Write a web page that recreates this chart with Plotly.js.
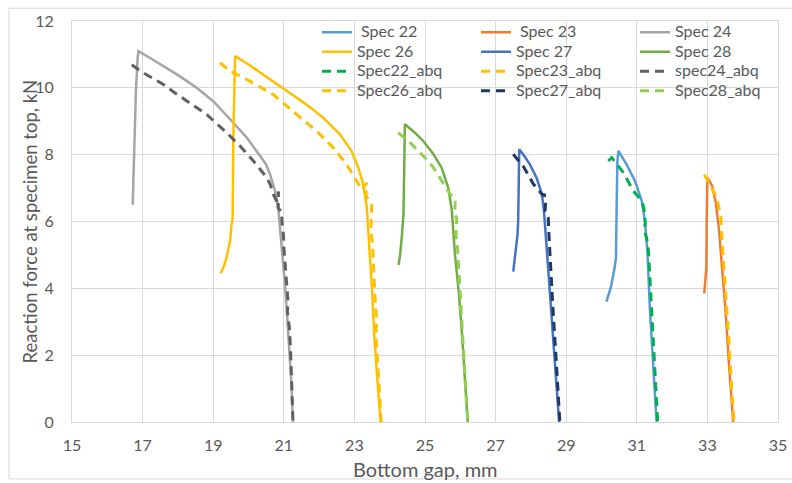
<!DOCTYPE html>
<html>
<head>
<meta charset="utf-8">
<script src="https://cdn.plot.ly/plotly-3.0.1.min.js"></script>
<style>html,body{margin:0;padding:0;background:#fff;}</style>
</head>
<body>
<div id="chart" style="width:792px;height:483px;"></div>
<script>
// ---- data ----
const spec22_x = [30.14, 30.20, 30.27, 30.36, 30.41, 30.43, 30.45, 30.48, 30.71, 30.95, 31.14, 31.23, 31.30, 31.37, 31.46, 31.56];
const spec22_y = [3.60, 3.80, 4.05, 4.55, 4.90, 6.50, 7.80, 8.11, 7.71, 7.21, 6.62, 6.02, 5.13, 3.40, 1.75, 0.00];

const spec23_x = [32.91, 32.93, 32.95, 32.97, 32.98, 33.00, 33.07, 33.14, 33.24, 33.33, 33.42, 33.52, 33.61, 33.73];
const spec23_y = [3.85, 4.10, 4.45, 4.60, 6.00, 7.30, 7.20, 7.05, 6.55, 5.75, 4.55, 3.25, 1.75, 0.00];

const spec24_x = [16.72, 16.75, 16.78, 16.81, 16.86, 16.88, 17.20, 17.59, 18.05, 18.53, 19.00, 19.48, 19.95, 20.33, 20.50, 20.61, 20.69, 20.75, 20.84, 20.89, 20.97, 21.03, 21.12, 21.21, 21.26];
const spec24_y = [6.50, 7.60, 8.60, 9.90, 10.90, 11.10, 10.90, 10.65, 10.35, 10.00, 9.60, 9.06, 8.51, 7.96, 7.70, 7.41, 7.15, 6.92, 6.42, 5.82, 5.03, 4.15, 2.75, 1.25, 0.00];

const spec26_x = [19.21, 19.30, 19.38, 19.48, 19.52, 19.55, 19.57, 19.60, 19.62, 20.00, 20.42, 20.90, 21.37, 21.75, 22.12, 22.59, 22.92, 23.11, 23.25, 23.35, 23.39, 23.44, 23.50, 23.57, 23.67, 23.74];
const spec26_y = [4.45, 4.65, 4.93, 5.42, 5.92, 6.10, 8.50, 10.50, 10.95, 10.70, 10.40, 10.05, 9.70, 9.42, 9.10, 8.61, 8.11, 7.61, 7.12, 6.42, 5.82, 5.03, 3.95, 2.45, 0.95, 0.00];

const spec27_x = [27.50, 27.55, 27.58, 27.62, 27.64, 27.66, 27.67, 27.80, 27.97, 28.16, 28.31, 28.37, 28.43, 28.47, 28.52, 28.62, 28.72, 28.80];
const spec27_y = [4.50, 4.90, 5.13, 5.60, 6.02, 7.20, 8.16, 7.98, 7.71, 7.31, 6.82, 6.32, 5.52, 4.83, 4.15, 2.65, 1.15, 0.00];

const spec28_x = [24.25, 24.29, 24.34, 24.39, 24.41, 24.43, 24.70, 24.95, 25.24, 25.47, 25.66, 25.76, 25.85, 25.96, 26.06, 26.14, 26.21];
const spec28_y = [4.70, 4.95, 5.50, 6.22, 7.50, 8.91, 8.67, 8.41, 8.01, 7.61, 7.01, 6.32, 5.00, 3.85, 2.45, 1.15, 0.00];

const spec22abq_x = [30.19, 30.29, 30.45, 30.62, 30.90, 31.14, 31.20, 31.24, 31.22, 31.28, 31.33, 31.40, 31.48, 31.59];
const spec22abq_y = [7.81, 7.91, 7.70, 7.46, 6.92, 6.62, 6.40, 6.00, 5.70, 5.50, 5.13, 3.80, 2.20, 0.00];

const spec23abq_x = [32.91, 33.00, 33.09, 33.20, 33.28, 33.38, 33.42, 33.52, 33.61, 33.69, 33.76];
const spec23abq_y = [7.40, 7.25, 7.05, 6.85, 6.65, 6.15, 5.35, 3.95, 2.45, 0.95, 0.00];

const spec24abq_x = [16.70, 16.74, 17.02, 17.30, 17.59, 17.90, 18.25, 18.82, 19.38, 19.76, 20.14, 20.52, 20.62, 20.70, 20.80, 20.85, 20.84, 20.93, 20.96, 20.99, 21.00, 21.03, 21.08, 21.12, 21.10, 21.16, 21.19, 21.23, 21.26];
const spec24abq_y = [10.70, 10.65, 10.45, 10.28, 10.10, 9.86, 9.60, 9.20, 8.66, 8.26, 7.81, 7.31, 7.10, 6.82, 6.60, 6.90, 6.40, 6.30, 5.82, 5.60, 5.25, 4.80, 4.20, 3.60, 3.30, 2.80, 2.20, 1.20, 0.00];

const spec26abq_x = [19.19, 19.48, 20.04, 20.70, 21.37, 21.93, 22.40, 22.78, 23.06, 23.22, 23.35, 23.33, 23.42, 23.49, 23.47, 23.52, 23.57, 23.63, 23.61, 23.68, 23.76];
const spec26abq_y = [10.75, 10.50, 10.20, 9.80, 9.20, 8.71, 8.21, 7.71, 7.21, 6.95, 7.16, 6.77, 6.60, 6.53, 5.82, 5.20, 4.00, 3.00, 2.60, 1.50, 0.00];

const spec27abq_x = [27.50, 27.78, 28.07, 28.31, 28.38, 28.42, 28.40, 28.49, 28.52, 28.55, 28.63, 28.72, 28.82];
const spec27abq_y = [8.01, 7.66, 7.12, 6.82, 6.80, 6.60, 6.30, 6.12, 5.42, 4.80, 3.30, 1.80, 0.00];

const spec28abq_x = [24.24, 24.58, 24.80, 25.05, 25.25, 25.43, 25.58, 25.71, 25.80, 25.86, 25.84, 25.90, 25.88, 25.92, 25.98, 26.07, 26.14, 26.21];
const spec28abq_y = [8.66, 8.36, 8.12, 7.86, 7.60, 7.31, 7.07, 6.82, 6.72, 6.67, 6.22, 6.10, 5.60, 5.20, 4.15, 2.65, 1.30, 0.00];

const seriesNames = [' Spec 22', ' Spec 23', 'Spec 24', 'Spec 26', 'Spec 27', 'Spec 28',
                     'Spec22_abq', 'Spec23_abq', 'spec24_abq', 'Spec26_abq', 'Spec27_abq', 'Spec28_abq'];
const xTickVals = [15, 17, 19, 21, 23, 25, 27, 29, 31, 33, 35];
const yTickVals = [0, 2, 4, 6, 8, 10, 12];
const xTitle = 'Bottom gap, mm';
const yTitle = 'Reaction force at specimen top, kN';

// ---- styling ----
const FONT = 'Lato, "Open Sans", sans-serif';
const TXT = '#595959';
function solid(x, y, name, color, legend) {
  return {x: x, y: y, name: '<span style="font-size:16px">' + name + '</span>', type: 'scatter', mode: 'lines',
          line: {color: color, width: 2.5}, legend: legend, hoverinfo: 'x+y+name'};
}
function dashed(x, y, name, color, legend) {
  return {x: x, y: y, name: '<span style="font-size:16px">' + name + '</span>', type: 'scatter', mode: 'lines',
          line: {color: color, width: 3, dash: '9px,6px'}, legend: legend, hoverinfo: 'x+y+name'};
}

const traces = [
  solid(spec22_x, spec22_y, seriesNames[0], '#5B9BD5', 'legend'),
  solid(spec23_x, spec23_y, seriesNames[1], '#ED7D31', 'legend2'),
  solid(spec24_x, spec24_y, seriesNames[2], '#A5A5A5', 'legend3'),
  solid(spec26_x, spec26_y, seriesNames[3], '#FFC000', 'legend'),
  solid(spec27_x, spec27_y, seriesNames[4], '#4472C4', 'legend2'),
  solid(spec28_x, spec28_y, seriesNames[5], '#70AD47', 'legend3'),
  dashed(spec22abq_x, spec22abq_y, seriesNames[6], '#00B050', 'legend'),
  dashed(spec23abq_x, spec23abq_y, seriesNames[7], '#FFC000', 'legend2'),
  dashed(spec24abq_x, spec24abq_y, seriesNames[8], '#606060', 'legend3'),
  dashed(spec26abq_x, spec26abq_y, seriesNames[9], '#FFC000', 'legend'),
  dashed(spec27abq_x, spec27abq_y, seriesNames[10], '#203864', 'legend2'),
  dashed(spec28abq_x, spec28abq_y, seriesNames[11], '#92D050', 'legend3')
];

function legendAt(x) {
  return {x: x, y: 1.009, xanchor: 'left', yanchor: 'top', orientation: 'v',
          bgcolor: 'rgba(0,0,0,0)', borderwidth: 0,
          font: {family: FONT, size: 12.7, color: TXT}, tracegroupgap: 0};
}

const layout = {
  width: 792, height: 483,
  margin: {l: 72, r: 14, t: 21, b: 61, pad: 0},
  paper_bgcolor: '#ffffff', plot_bgcolor: '#ffffff',
  font: {family: FONT, color: TXT},
  showlegend: true,
  legend: legendAt(0.347),
  legend2: legendAt(0.5722),
  legend3: legendAt(0.7975),
  xaxis: {
    range: [15, 35], tickvals: xTickVals, ticktext: xTickVals.map(String),
    showgrid: true, gridcolor: '#D9D9D9', gridwidth: 1, zeroline: false,
    showline: true, linecolor: '#D9D9D9', linewidth: 1, mirror: true,
    ticks: '', ticklabelstandoff: 9,
    tickfont: {family: FONT, size: 16, color: TXT}
  },
  yaxis: {
    range: [0, 12], tickvals: yTickVals, ticktext: yTickVals.map(String),
    showgrid: true, gridcolor: '#D9D9D9', gridwidth: 1, zeroline: false,
    showline: true, linecolor: '#D9D9D9', linewidth: 1, mirror: true,
    ticks: '', ticklabelstandoff: 14,
    tickfont: {family: FONT, size: 16, color: TXT}
  },
  annotations: [
    {text: yTitle, xref: 'paper', yref: 'paper', x: -0.0595, y: 0.5,
     xanchor: 'center', yanchor: 'middle', textangle: -90, showarrow: false,
     font: {family: FONT, size: 18.5, color: TXT}},
    {text: xTitle, xref: 'paper', yref: 'paper', x: 0.5, y: -0.118,
     xanchor: 'center', yanchor: 'middle', showarrow: false,
     font: {family: FONT, size: 20, color: TXT}}
  ],
  shapes: [{type: 'rect', xref: 'paper', yref: 'paper', x0: -0.0892, x1: 1.03, y0: -0.142, y1: 1.0317,
            line: {color: '#D9D9D9', width: 1}, fillcolor: 'rgba(0,0,0,0)', layer: 'below'}]
};

Plotly.newPlot('chart', traces, layout, {displayModeBar: false, staticPlot: true});
</script>
</body>
</html>
